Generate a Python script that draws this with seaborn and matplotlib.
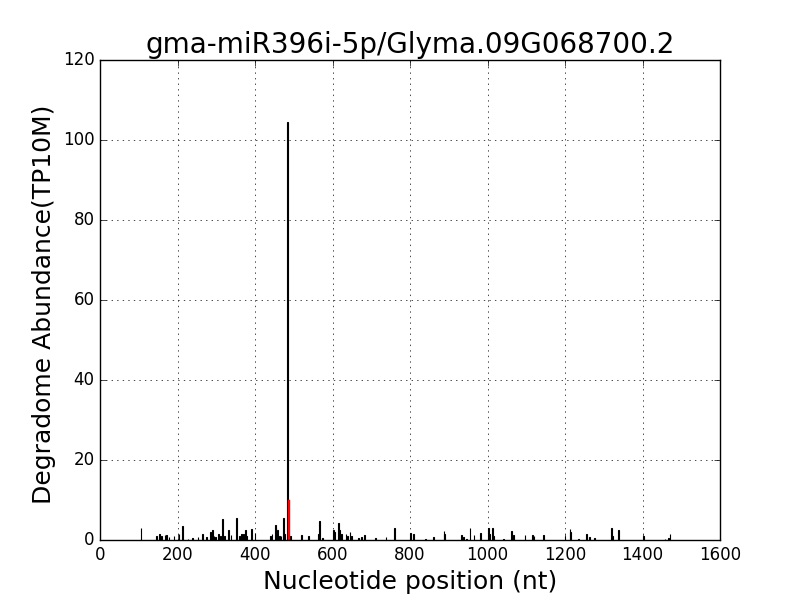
import matplotlib
matplotlib.use("Agg")
import matplotlib.pyplot as plt
import seaborn as sns
import pandas as pd

title = "gma-miR396i-5p/Glyma.09G068700.2"
xlabel = "Nucleotide position (nt)"
ylabel = "Degradome Abundance(TP10M)"

positions = [106, 145, 153, 159, 168, 172, 178, 191, 204, 213, 227, 239, 253, 264, 275,
             286, 290, 294, 299, 305, 310, 316, 322, 331, 338, 353, 360, 366, 370, 375,
             378, 391, 400, 440, 444, 452, 454, 458, 463, 467, 473, 477, 484, 492, 519,
             538, 563, 566, 575, 602, 606, 615, 619, 623, 635, 638, 645, 650, 667, 675,
             682, 710, 738, 760, 802, 809, 839, 860, 888, 890, 933, 938, 946, 955, 965,
             981, 1002, 1006, 1012, 1015, 1041, 1062, 1067, 1097, 1116, 1120, 1144, 1200,
             1213, 1215, 1234, 1256, 1263, 1276, 1319, 1323, 1339, 1402, 1458, 1467, 1471]
abundance = [3.0, 1.0, 1.5, 1.0, 1.2, 1.2, 0.8, 1.0, 1.5, 3.5, 0.3, 0.5, 0.8, 1.5, 0.8,
             2.0, 2.5, 1.0, 0.8, 1.5, 1.0, 5.2, 1.0, 2.5, 1.2, 5.4, 1.0, 1.5, 1.5, 2.5,
             1.0, 2.7, 1.7, 1.0, 1.5, 3.7, 3.0, 2.5, 1.0, 1.0, 5.4, 1.5, 104.5, 1.0, 1.3,
             1.0, 1.5, 4.7, 0.5, 2.5, 2.0, 4.2, 2.5, 1.5, 1.5, 1.0, 2.0, 1.0, 0.5, 0.7,
             1.2, 0.4, 0.8, 2.9, 1.7, 1.5, 0.3, 0.8, 2.3, 1.5, 1.2, 0.8, 0.3, 2.9, 1.2,
             1.7, 2.9, 1.5, 2.9, 1.0, 0.3, 2.2, 1.2, 1.2, 1.3, 1.0, 1.2, 1.0,
             2.7, 2.0, 0.2, 1.5, 0.8, 0.4, 2.9, 1.0, 2.4, 1.0, 0.2, 0.6, 1.5]
site_position = [487]
site_abundance = [10.0]

plt.style.use("classic")
plt.rcParams["font.family"] = ["DejaVu Sans"]

df = pd.DataFrame({"pos": positions, "val": abundance})
df_site = pd.DataFrame({"pos": site_position, "val": site_abundance})

fig = plt.figure(figsize=(8, 6), dpi=100, facecolor="white")
ax = fig.add_axes([0.125, 0.1, 0.775, 0.8])
ax.set_facecolor("white")

sns.barplot(data=df, x="pos", y="val", native_scale=True, width=1.0,
            color="black", edgecolor="black", linewidth=0.8, saturation=1,
            errorbar=None, ax=ax)
sns.barplot(data=df_site, x="pos", y="val", native_scale=True, width=6,
            color="red", edgecolor="red", linewidth=0.3, saturation=1,
            errorbar=None, ax=ax)

ax.set_xlim(0, 1600)
ax.set_ylim(0, 120)
ax.set_xticks(range(0, 1601, 200))
ax.set_yticks(range(0, 121, 20))
ax.grid(True, linestyle=":", color="black", linewidth=0.5)
ax.set_axisbelow(False)
ax.set_title(title, fontsize=20)
ax.set_xlabel(xlabel, fontsize=18)
ax.set_ylabel(ylabel, fontsize=18)
ax.yaxis.set_label_coords(-0.071, 0.49)
ax.tick_params(labelsize=12)

fig.savefig("out.png", dpi=100, facecolor="white")
